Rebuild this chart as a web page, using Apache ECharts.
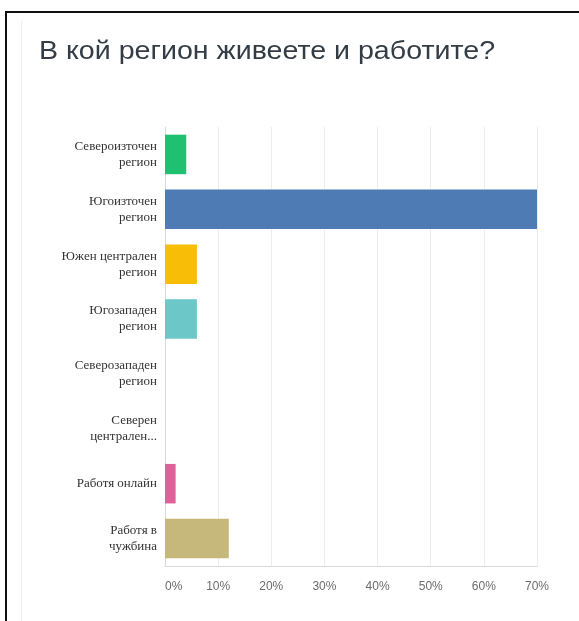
<!DOCTYPE html>
<html>
<head>
<meta charset="utf-8">
<title>В кой регион живеете и работите?</title>
<script src="https://cdn.jsdelivr.net/npm/echarts@6/dist/echarts.min.js"></script>
<style>
  html, body { margin: 0; padding: 0; background: #fff; }
  #chart { width: 579px; height: 621px; }
</style>
</head>
<body>
<div id="chart"></div>
<script>
// Survey answers: share of respondents per region (percent)
const titleText = 'В кой регион живеете и работите?';
const categories = [
  'Североизточен\nрегион',
  'Югоизточен\nрегион',
  'Южен централен\nрегион',
  'Югозападен\nрегион',
  'Северозападен\nрегион',
  'Северен\nцентрален...',
  'Работя онлайн',
  'Работя в\nчужбина'
];
const shares = [4, 70, 6, 6, 0, 0, 2, 12];
const barColors = ['#20c071', '#4f7bb5', '#f8bd06', '#6cc8c8', '#8a6fb8', '#e8873a', '#e0609a', '#c6b77b'];
const tickValues = [0, 10, 20, 30, 40, 50, 60, 70];

const chart = echarts.init(document.getElementById('chart'), null, { renderer: 'canvas' });

chart.setOption({
  animation: false,
  backgroundColor: '#fff',
  graphic: [
    {
      // card frame
      type: 'rect',
      shape: { x: 6, y: 12, width: 640, height: 700 },
      style: { fill: 'none', stroke: '#111', lineWidth: 2 },
      silent: true
    },
    {
      type: 'line',
      shape: { x1: 21.5, y1: 21, x2: 21.5, y2: 621 },
      style: { stroke: '#f0f0f0', lineWidth: 1 },
      silent: true
    },
    {
      // heading, slightly widened
      type: 'text',
      x: 39,
      y: 39,
      scaleX: 1.1,
      style: {
        text: titleText,
        font: '26px "Liberation Sans", Arial, sans-serif',
        fill: '#343c45',
        textVerticalAlign: 'top'
      },
      silent: true
    }
  ],
  grid: {
    left: 165,
    right: 42,
    top: 127,
    bottom: 55
  },
  xAxis: {
    type: 'value',
    min: tickValues[0],
    max: tickValues[tickValues.length - 1],
    interval: 10,
    axisLine: { show: true, lineStyle: { color: '#d9d9d9', width: 1 } },
    axisTick: { show: false },
    splitLine: { show: true, lineStyle: { color: '#ececec', width: 1 } },
    axisLabel: {
      formatter: '{value}%',
      margin: 15,
      alignMinLabel: 'left',
      fontFamily: 'Liberation Sans, Arial, sans-serif',
      fontSize: 12,
      color: '#6b6b6b'
    }
  },
  yAxis: {
    type: 'category',
    inverse: true,
    data: categories,
    axisLine: { show: true, lineStyle: { color: '#d9d9d9', width: 1 } },
    axisTick: { show: false },
    axisLabel: {
      margin: 8,
      align: 'right',
      fontFamily: 'Liberation Serif, DejaVu Serif, serif',
      fontSize: 13,
      lineHeight: 16,
      color: '#333'
    }
  },
  series: [{
    type: 'bar',
    data: shares.map((v, i) => ({ value: v, itemStyle: { color: barColors[i] } })),
    barWidth: '72%',
    itemStyle: { borderWidth: 0 }
  }]
});
</script>
</body>
</html>
